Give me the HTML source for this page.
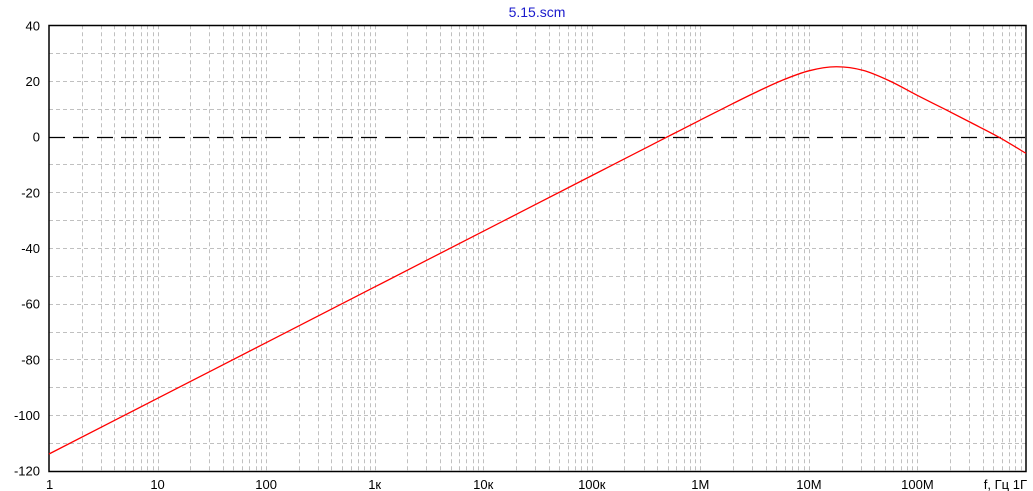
<!DOCTYPE html>
<html><head><meta charset="utf-8"><style>
body{margin:0;background:#fff;}
svg{display:block;font-family:"Liberation Sans",sans-serif;}
</style></head><body>
<svg id="chart" width="1033" height="491" xmlns="http://www.w3.org/2000/svg">
<text x="537" y="17" font-size="14" fill="#1a1acc" text-anchor="middle">5.15.scm</text>
<g id="grid"></g>
<g id="axes"></g>
<g id="series"></g>
</svg>
<script>
const yTicks = [40, 20, 0, -20, -40, -60, -80, -100, -120];
const xTickValues = [1, 10, 100, 1e3, 1e4, 1e5, 1e6, 1e7, 1e8];
const xTickLabels = ["1", "10", "100", "1к", "10к", "100к", "1M", "10M", "100M"];
const freqs = [1, 10, 100, 1e3, 1e4, 1e5, 1.778e5, 3.162e5, 5.623e5, 1e6, 1.778e6, 3.162e6, 5.623e6, 1e7, 1.778e7, 3.162e7, 5.623e7, 1e8, 1.778e8, 3.162e8, 5.623e8, 1e9];
const gains = [-114, -94, -74, -54, -34, -14, -9, -4, 0.99, 5.97, 10.91, 15.73, 20.18, 23.65, 25.1, 23.8, 19.9, 14.8, 9.9, 4.9, -0.2, -6.0];

const L=49, R=1026, T=25.3, B=470.7;
const fMin=1, fMax=1e9, yMin=-120, yMax=40;
const xs = f => L + (Math.log10(f)-Math.log10(fMin))/(Math.log10(fMax)-Math.log10(fMin))*(R-L);
const ys = v => T + (yMax-v)/(yMax-yMin)*(B-T);
const NS="http://www.w3.org/2000/svg";
function mk(tag, attrs, parent){const e=document.createElementNS(NS,tag);for(const k in attrs)e.setAttribute(k,attrs[k]);parent.appendChild(e);return e;}
const grid=document.getElementById('grid'), axes=document.getElementById('axes'), series=document.getElementById('series');

for(let d=0; d<9; d++){
  for(let m=1; m<=9; m++){
    if(d===0 && m===1) continue;
    const x=Math.round(xs(m*Math.pow(10,d)))+0.5;
    const ln=mk('line',{x1:x,y1:T,x2:x,y2:B,stroke:'#c0c0c0','stroke-width':1,'stroke-dasharray':'4,3'},grid);
    
    
  }
}
for(let v=yMin+10; v<yMax; v+=10){
  if(v===0) continue;
  const y=Math.round(ys(v))+0.5;
  const ln=mk('line',{x1:L,y1:y,x2:R,y2:y,stroke:'#c0c0c0','stroke-width':1,'stroke-dasharray':'4,3'},grid);
  
  
}
const zy=Math.round(ys(0))+0.5;
const zl=mk('line',{x1:L,y1:zy,x2:R,y2:zy,stroke:'#000','stroke-width':1.3,'stroke-dasharray':'16,8'},grid);



const box=mk('rect',{x:L,y:Math.round(T)+0.5,width:R-L,height:Math.round(B)-Math.round(T),fill:'none',stroke:'#000','stroke-width':1.5},axes);



yTicks.forEach(v=>{
  const t=mk('text',{x:40,y:ys(v)+5,'font-size':13,'text-anchor':'end',fill:'#000'},axes);
  t.textContent=String(v);
  
  
});
xTickValues.forEach((f,i)=>{
  const t=mk('text',{x:xs(f)-(i===0?3:0),y:489,'font-size':13,'text-anchor':i===0?'start':'middle',fill:'#000'},axes);
  t.textContent=xTickLabels[i];
  
  
});
const xt=mk('text',{x:1027,y:489,'font-size':13,'text-anchor':'end',fill:'#000'},axes);
xt.textContent='f, Гц  1Г';



const pts=freqs.map((f,i)=>[xs(f),ys(gains[i])]);
let d='M'+pts[0][0].toFixed(2)+','+pts[0][1].toFixed(2);
for(let i=0;i<pts.length-1;i++){
  const p0=pts[Math.max(0,i-1)],p1=pts[i],p2=pts[i+1],p3=pts[Math.min(pts.length-1,i+2)];
  const c1=[p1[0]+(p2[0]-p0[0])/6,p1[1]+(p2[1]-p0[1])/6];
  const c2=[p2[0]-(p3[0]-p1[0])/6,p2[1]-(p3[1]-p1[1])/6];
  d+=' C'+c1[0].toFixed(2)+','+c1[1].toFixed(2)+' '+c2[0].toFixed(2)+','+c2[1].toFixed(2)+' '+p2[0].toFixed(2)+','+p2[1].toFixed(2);
}
const curve=mk('path',{d:d,fill:'none',stroke:'#ff0000','stroke-width':1.3},series);


</script>
</body></html>
